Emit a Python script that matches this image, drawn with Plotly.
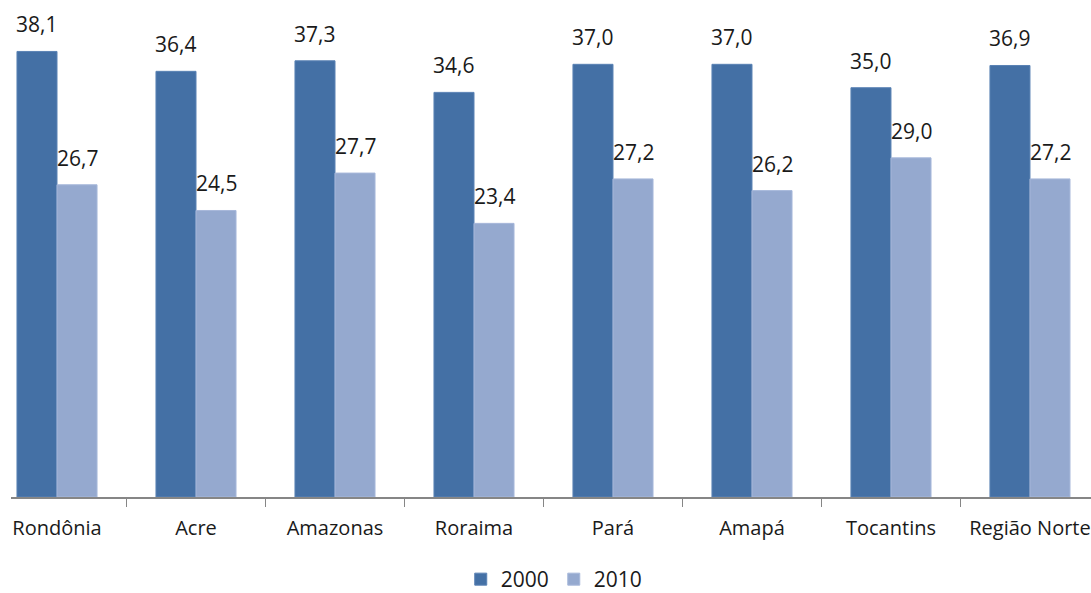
import plotly.graph_objects as go

categories = ["Rondônia", "Acre", "Amazonas", "Roraima", "Pará", "Amapá", "Tocantins", "Região Norte"]
values_2000 = [38.1, 36.4, 37.3, 34.6, 37.0, 37.0, 35.0, 36.9]
values_2010 = [26.7, 24.5, 27.7, 23.4, 27.2, 26.2, 29.0, 27.2]
series_names = ["2000", "2010"]

DARK = "#4470A5"
LIGHT = "#95A9CF"
FONT = "Open Sans"
TEXT = "#1a1a1a"
BARGAP = 0.424
bar_w = (1 - BARGAP) / 2


def fmt(v):
    return f"{v:.1f}".replace(".", ",")


fig = go.Figure()
fig.add_trace(go.Bar(x=categories, y=values_2000, name=series_names[0],
                     marker=dict(color=DARK, line=dict(color="#5a82b4", width=1))))
fig.add_trace(go.Bar(x=categories, y=values_2010, name=series_names[1],
                     marker=dict(color=LIGHT, line=dict(color="#a7b8da", width=1))))

# value labels above each bar
annotations = []
for series, offset in ((values_2000, -bar_w / 2), (values_2010, bar_w / 2)):
    for i, v in enumerate(series):
        annotations.append(dict(x=i + offset, y=v, xref="x", yref="y",
                                text=fmt(v), showarrow=False, yanchor="bottom",
                                yshift=11, font=dict(family=FONT, size=21, color=TEXT)))

fig.update_layout(
    width=1091, height=593,
    margin=dict(l=11, r=0, t=0, b=96, autoexpand=False),
    paper_bgcolor="white", plot_bgcolor="white",
    barmode="group", bargap=BARGAP, bargroupgap=0,
    font=dict(family=FONT, size=21, color=TEXT),
    annotations=annotations,
    showlegend=True,
    legend=dict(orientation="h", x=0.503, xanchor="center", y=-0.166, yanchor="middle",
                font=dict(family=FONT, size=21, color=TEXT), itemwidth=30,
                bgcolor="rgba(0,0,0,0)"),
)
fig.update_xaxes(
    type="category", range=[-0.331, 7.439], automargin=False,
    showline=True, linecolor="#868686", linewidth=1.5,
    ticks="outside", tickson="boundaries", ticklen=8, tickcolor="#868686",
    ticklabelstandoff=12,
    showgrid=False, tickfont=dict(family=FONT, size=20, color=TEXT),
)
fig.update_yaxes(range=[0, 42.5], visible=False, showgrid=False, zeroline=False)

fig.write_html("out.html")
